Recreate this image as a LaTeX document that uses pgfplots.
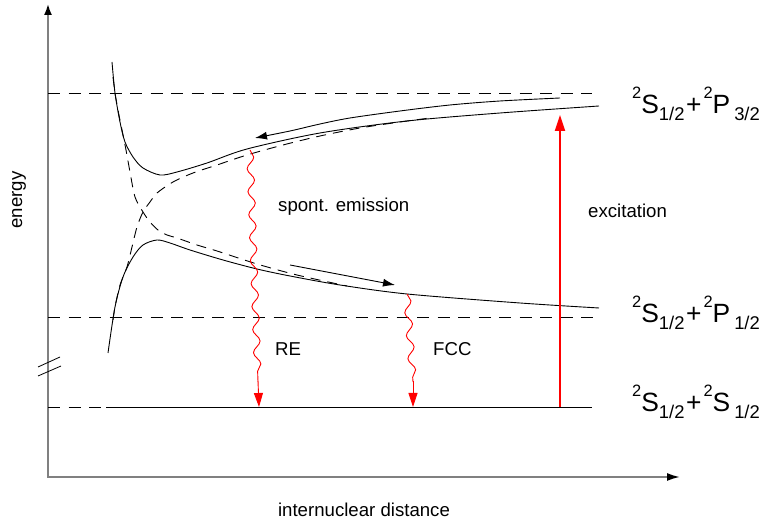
\documentclass[border=0pt]{standalone}
\usepackage{fontspec}
\setmainfont{Liberation Sans}
\usepackage{pgfplots}
\pgfplotsset{compat=1.18}
\usetikzlibrary{arrows.meta,decorations.pathmorphing}
\newcommand{\lbl}{\fontsize{18.7}{22}\selectfont}
\newcommand{\sups}[1]{\raisebox{15.7bp}{\fontsize{16.5}{17}\selectfont #1}}
\newcommand{\subs}[1]{\raisebox{-6.5bp}{\fontsize{18.5}{19}\selectfont #1}}
\newcommand{\lvl}{\fontsize{26.5}{30}\selectfont}
\begin{document}
\begin{tikzpicture}
\begin{axis}[x=1bp,y=1bp,xmin=0,xmax=768,ymin=0,ymax=522,hide axis,clip=false,
  every axis plot/.append style={line width=0.9bp}]
% axes
\addplot[black!50, line width=1.8bp, -{Latex[length=11bp,width=8bp,color=black]}] coordinates {(48,44) (48,518)};
\addplot[black!50, line width=1.8bp, -{Latex[length=13bp,width=8bp,color=black]}] coordinates {(47,45) (680,45)};
% axis break
\addplot[black, line width=0.8bp] coordinates {(38,155) (60,165)};
\addplot[black, line width=0.8bp] coordinates {(38,146) (61,156)};
% asymptotic levels
\addplot[black, dash pattern=on 12bp off 8.5bp] coordinates {(48,429) (592,429)};
\addplot[black, dash pattern=on 12bp off 8.5bp] coordinates {(48,205) (593,205)};
\addplot[black, dash pattern=on 12bp off 8.5bp] coordinates {(48,115) (104,115)};
\addplot[black] coordinates {(106,115) (592,115)};
% adiabatic curves
\addplot[black, smooth] coordinates {(112,460) (115,429) (120,400) (125,380) (133,365) (143,354) (160,347) (177,350) (207,359) (247,373) (320,389) (407,401) (500,409) (599,416)};
\addplot[black, smooth] coordinates {(108,169) (115,215) (123,245) (133,265) (143,277) (157,282) (170,279) (190,272) (223,262) (257,253) (290,246) (340,237) (407,228) (520,219) (599,214)};
% diabatic curves
\addplot[black, smooth, dash pattern=on 10bp off 7bp] coordinates {(113,445) (115,429) (118,412) (122,392) (126,372) (130,350) (135,325) (143,310) (150,300) (158,292) (167,287) (177,284) (197,277) (217,271) (257,258) (297,247) (347,236)};
\addplot[black, smooth, dash pattern=on 10bp off 7bp] coordinates {(113,202) (115,215) (120,237) (127,255) (132,275) (137,295) (143,310) (150,320) (157,329) (173,340) (193,349) (217,357) (247,367) (283,377) (320,386) (360,394) (400,400) (430,404)};
% motion arrows
\addplot[black, smooth, -{Latex[length=12bp,width=8bp]}] coordinates {(560,424) (500,421) (450,417) (400,411) (350,404) (320,398) (290,391) (255,384)};
\addplot[black, -{Latex[length=12bp,width=8bp]}] coordinates {(290,257) (395,237)};
% excitation
\addplot[red, line width=2bp, -{Triangle[length=16bp,width=10bp]}] coordinates {(560,115) (560,407)};
% RE emission
\addplot[red, line width=0.9bp, decorate, decoration={snake, amplitude=3.5bp, segment length=23bp}] coordinates {(250,372) (258,140)};
\addplot[red, line width=0.9bp, -{Triangle[length=14bp,width=9bp]}] coordinates {(258,141) (259,115)};
% FCC emission
\addplot[red, line width=0.9bp, decorate, decoration={snake, amplitude=3.5bp, segment length=23bp}] coordinates {(407,228) (413,140)};
\addplot[red, line width=0.9bp, -{Triangle[length=14bp,width=9bp]}] coordinates {(413,141) (413,115)};
% texts
\node[anchor=base west, font=\lbl, inner sep=0pt] at (axis cs:278,310) {spont. emission};
\node[anchor=base west, font=\lbl, inner sep=0pt] at (axis cs:588,304.5) {excitation};
\node[anchor=base west, font=\lbl, inner sep=0pt] at (axis cs:275,166) {RE};
\node[anchor=base west, font=\lbl, inner sep=0pt] at (axis cs:433,166) {FCC};
\node[anchor=base, font=\lbl, inner sep=0pt] at (axis cs:364,5) {internuclear distance};
\node[anchor=base, rotate=90, font=\lbl, inner sep=0pt] at (axis cs:22,322) {energy};
\node[anchor=base west, font=\lvl, inner sep=0pt] at (axis cs:632,408) {\sups{2}S\subs{1/2}\kern1.5bp+\kern2bp\sups{2}P\kern4bp\subs{3/2}};
\node[anchor=base west, font=\lvl, inner sep=0pt] at (axis cs:632,199) {\sups{2}S\subs{1/2}\kern1.5bp+\kern2bp\sups{2}P\kern4bp\subs{1/2}};
\node[anchor=base west, font=\lvl, inner sep=0pt] at (axis cs:632,110) {\sups{2}S\subs{1/2}\kern1.5bp+\kern2bp\sups{2}S\kern4bp\subs{1/2}};
\end{axis}
\pgfresetboundingbox
\path (current axis.south west) rectangle (current axis.north east);
\end{tikzpicture}
\end{document}
